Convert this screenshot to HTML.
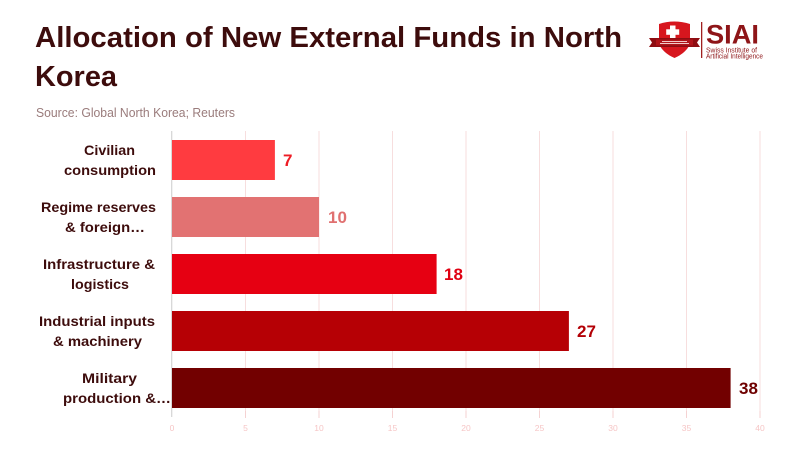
<!DOCTYPE html>
<html><head><meta charset="utf-8"><style>
html,body{margin:0;padding:0;background:#fff;}
svg{display:block;}
text{font-family:"Liberation Sans",sans-serif;}
</style></head><body>
<svg width="800" height="450" viewBox="0 0 800 450" xmlns="http://www.w3.org/2000/svg">
<rect width="800" height="450" fill="#fff"/>
<!-- title -->
<text x="35" y="47" font-size="29" font-weight="bold" fill="#3d0c0c" textLength="587" lengthAdjust="spacingAndGlyphs">Allocation of New External Funds in North</text>
<text x="35" y="86" font-size="29" font-weight="bold" fill="#3d0c0c" textLength="82" lengthAdjust="spacingAndGlyphs">Korea</text>
<text x="36" y="117" font-size="12.5" fill="#9a7c7c" textLength="199" lengthAdjust="spacingAndGlyphs">Source: Global North Korea; Reuters</text>

<!-- logo -->
<path d="M659 24 Q674 19 690 24 L690 44 Q686 53 674.5 58 Q663 53 659 44 Z" fill="#d7161e"/>
<rect x="670" y="25.5" width="5.5" height="13" fill="#fff"/>
<rect x="666.2" y="29.3" width="13" height="5.5" fill="#fff"/>
<path d="M649 38 L700 38 L697 42.5 L700 47 L649 47 L652 42.5 Z" fill="#8e0d12"/>
<rect x="656" y="39.5" width="37" height="6" fill="#b0141a"/>
<rect x="662" y="41" width="25" height="1" fill="#f2c8c8"/>
<rect x="660" y="43" width="29" height="1" fill="#f2c8c8"/>
<rect x="701" y="22" width="1.3" height="36" fill="#a02020"/>
<text x="706" y="43.5" font-size="27" font-weight="bold" fill="#8e1518" textLength="53" lengthAdjust="spacingAndGlyphs">SIAI</text>
<text x="706" y="52.5" font-size="7" fill="#8e1518" textLength="51" lengthAdjust="spacingAndGlyphs">Swiss Institute of</text>
<text x="706" y="58.5" font-size="7" fill="#8e1518" textLength="57" lengthAdjust="spacingAndGlyphs">Artificial Intelligence</text>

<!-- gridlines -->
<g stroke="#f7dede" stroke-width="1">
<line x1="245.5" y1="131" x2="245.5" y2="418"/>
<line x1="319" y1="131" x2="319" y2="418"/>
<line x1="392.5" y1="131" x2="392.5" y2="418"/>
<line x1="466" y1="131" x2="466" y2="418"/>
<line x1="539.5" y1="131" x2="539.5" y2="418"/>
<line x1="613" y1="131" x2="613" y2="418"/>
<line x1="686.5" y1="131" x2="686.5" y2="418"/>
<line x1="760" y1="131" x2="760" y2="418"/>
</g>
<line x1="171.7" y1="131" x2="171.7" y2="417" stroke="#d4d4d4" stroke-width="1.2"/>

<!-- bars -->
<rect x="172" y="140" width="102.9" height="40" fill="#ff3b40"/>
<rect x="172" y="197" width="147" height="40" fill="#e27272"/>
<rect x="172" y="254" width="264.6" height="40" fill="#e60012"/>
<rect x="172" y="311" width="396.9" height="40" fill="#b60005"/>
<rect x="172" y="368" width="558.6" height="40" fill="#720000"/>

<!-- values -->
<g font-size="17" font-weight="bold">
<text x="283" y="166" fill="#ee1c25">7</text>
<text x="328" y="223" fill="#e07070">10</text>
<text x="444" y="280" fill="#e00012">18</text>
<text x="577" y="337" fill="#b30006">27</text>
<text x="739" y="394" fill="#6e0000">38</text>
</g>

<!-- category labels -->
<g font-size="14" font-weight="bold" fill="#3d0c0c" lengthAdjust="spacingAndGlyphs">
<text x="84" y="155" textLength="51" lengthAdjust="spacingAndGlyphs">Civilian</text>
<text x="64" y="175" textLength="92" lengthAdjust="spacingAndGlyphs">consumption</text>
<text x="41" y="212" textLength="115" lengthAdjust="spacingAndGlyphs">Regime reserves</text>
<text x="65" y="232" textLength="80" lengthAdjust="spacingAndGlyphs">&amp; foreign…</text>
<text x="43" y="269" textLength="112" lengthAdjust="spacingAndGlyphs">Infrastructure &amp;</text>
<text x="71" y="289" textLength="58" lengthAdjust="spacingAndGlyphs">logistics</text>
<text x="39" y="326" textLength="116" lengthAdjust="spacingAndGlyphs">Industrial inputs</text>
<text x="53" y="346" textLength="89" lengthAdjust="spacingAndGlyphs">&amp; machinery</text>
<text x="82" y="383" textLength="55" lengthAdjust="spacingAndGlyphs">Military</text>
<text x="63" y="403" textLength="108" lengthAdjust="spacingAndGlyphs">production &amp;…</text>
</g>

<!-- ticks -->
<g stroke="#f5d2d2" stroke-width="1">
<line x1="245.5" y1="411" x2="245.5" y2="418"/>
<line x1="319" y1="411" x2="319" y2="418"/>
<line x1="392.5" y1="411" x2="392.5" y2="418"/>
<line x1="466" y1="411" x2="466" y2="418"/>
<line x1="539.5" y1="411" x2="539.5" y2="418"/>
<line x1="613" y1="411" x2="613" y2="418"/>
<line x1="686.5" y1="411" x2="686.5" y2="418"/>
<line x1="760" y1="411" x2="760" y2="418"/>
</g>
<g font-size="8.5" fill="#f6c6c6" text-anchor="middle">
<text x="172" y="431">0</text>
<text x="245.5" y="431">5</text>
<text x="319" y="431">10</text>
<text x="392.5" y="431">15</text>
<text x="466" y="431">20</text>
<text x="539.5" y="431">25</text>
<text x="613" y="431">30</text>
<text x="686.5" y="431">35</text>
<text x="760" y="431">40</text>
</g>
</svg>
</body></html>
